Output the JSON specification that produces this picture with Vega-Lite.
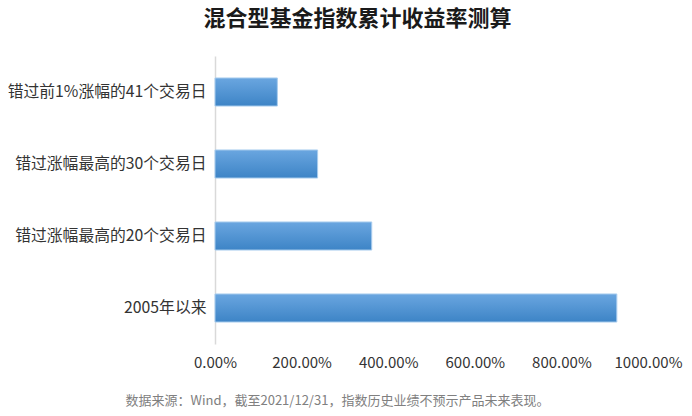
{
  "$schema": "https://vega.github.io/schema/vega-lite/v6.json",
  "autosize": {"type": "none"},
  "padding": {"left": 215, "top": 56, "right": 44, "bottom": 72},
  "width": 433,
  "height": 288,
  "background": "white",
  "title": {
    "text": "混合型基金指数累计收益率测算",
    "font": "Noto Sans CJK SC",
    "fontSize": 22,
    "fontWeight": "bold",
    "color": "#1a1a1a",
    "anchor": "middle",
    "dx": -74,
    "offset": 25
  },
  "data": {
    "values": [
      {"label": "错过前1%涨幅的41个交易日", "value": 1.44},
      {"label": "错过涨幅最高的30个交易日", "value": 2.37},
      {"label": "错过涨幅最高的20个交易日", "value": 3.62},
      {"label": "2005年以来", "value": 9.28}
    ]
  },
  "mark": {
    "type": "bar",
    "color": {
      "gradient": "linear",
      "x1": 0, "y1": 0, "x2": 0, "y2": 1,
      "stops": [
        {"offset": 0, "color": "#6aa6e0"},
        {"offset": 1, "color": "#3d84c6"}
      ]
    },
    "stroke": "#a9cdee",
    "strokeWidth": 1
  },
  "encoding": {
    "y": {
      "field": "label",
      "type": "nominal",
      "sort": null,
      "scale": {"paddingInner": 0.61, "paddingOuter": 0.305},
      "axis": {
        "title": null,
        "ticks": false,
        "domainColor": "#d9d9d9",
        "domainWidth": 1.5,
        "labelPadding": 9,
        "labelFont": "Noto Sans CJK SC",
        "labelFontSize": 15.8,
        "labelColor": "#333333",
        "labelLimit": 260
      }
    },
    "x": {
      "field": "value",
      "type": "quantitative",
      "scale": {"domain": [0, 10]},
      "axis": {
        "values": [0, 2, 4, 6, 8, 10],
        "format": ".2%",
        "domain": false,
        "ticks": false,
        "grid": false,
        "labelFlush": false,
        "labelOverlap": false,
        "labelPadding": 11,
        "labelFont": "Noto Sans CJK SC",
        "labelFontSize": 15,
        "labelColor": "#333333",
        "title": "数据来源：Wind，截至2021/12/31，指数历史业绩不预示产品未来表现。",
        "titleFont": "Noto Sans CJK SC",
        "titleFontSize": 13,
        "titleFontWeight": "normal",
        "titleColor": "#808080",
        "titleAnchor": "start",
        "titleX": -90,
        "titlePadding": 24
      }
    }
  },
  "config": {"view": {"stroke": null}}
}
